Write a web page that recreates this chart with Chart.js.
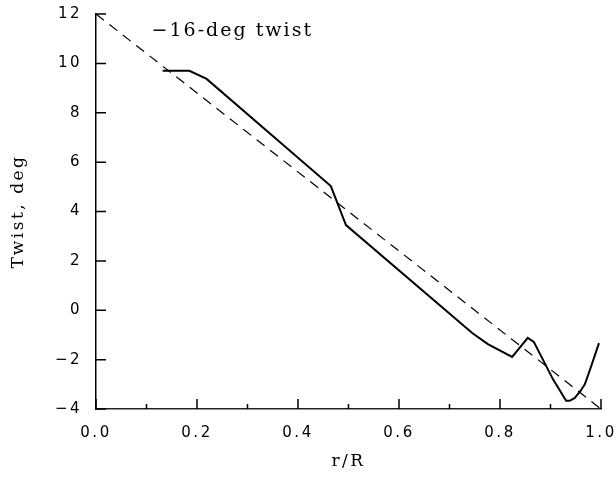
<!DOCTYPE html>
<html>
<head>
<meta charset="utf-8">
<script src="https://cdn.jsdelivr.net/npm/chart.js@4/dist/chart.umd.min.js"></script>
<style>
  html, body { margin: 0; padding: 0; background: #fff; }
  #wrap { width: 616px; height: 477px; }
</style>
</head>
<body>
<div id="wrap"><canvas id="twistChart"></canvas></div>
<script>
'use strict';

// blade twist vs radius
const radius = [0.132, 0.185, 0.219, 0.465, 0.495, 0.745, 0.776, 0.824, 0.855, 0.867, 0.905, 0.931, 0.938, 0.948, 0.958, 0.968, 0.978, 0.996];
const twist = [9.7, 9.7, 9.37, 5.03, 3.45, -0.92, -1.37, -1.89, -1.12, -1.28, -2.8, -3.67, -3.67, -3.55, -3.31, -3.0, -2.42, -1.33];

// linear -16 deg reference twist
const linearR = [0, 1];
const linearTwist = [12, -4];

const annotation = '\u221216-deg twist';
const xTitle = 'r/R';
const yTitle = 'Twist, deg';

const toPoints = (xs, ys) => xs.map((x, i) => ({x: x, y: ys[i]}));
const minus = v => (v < 0 ? '\u2212' + Math.abs(v) : String(v));

// inward tick marks + the text label
const plotExtras = {
  id: 'plotExtras',
  beforeDraw(chart) {
    chart.ctx.letterSpacing = '2.5px';
  },
  afterDraw(chart) {
    const ctx = chart.ctx;
    const xs = chart.scales.x;
    const ys = chart.scales.y;
    const area = chart.chartArea;
    ctx.save();
    ctx.strokeStyle = '#000';
    ctx.lineWidth = 1.5;
    ctx.beginPath();
    for (let i = 0; i <= 10; i++) {
      const px = xs.getPixelForValue(i / 10);
      const len = i % 2 === 0 ? 10 : 5;
      ctx.moveTo(px, area.bottom);
      ctx.lineTo(px, area.bottom - len);
    }
    ys.ticks.forEach(t => {
      const py = ys.getPixelForValue(t.value);
      ctx.moveTo(area.left, py);
      ctx.lineTo(area.left + 10, py);
    });
    ctx.stroke();

    ctx.fillStyle = '#000';
    ctx.font = '19px "DejaVu Serif"';
    ctx.letterSpacing = '2px';
    ctx.textAlign = 'left';
    ctx.textBaseline = 'middle';
    ctx.fillText(annotation, xs.getPixelForValue(0.11), ys.getPixelForValue(11.3));
    ctx.restore();
  }
};

new Chart(document.getElementById('twistChart'), {
  type: 'line',
  data: {
    datasets: [{
      data: toPoints(radius, twist),
      borderColor: '#000',
      borderWidth: 2,
      pointRadius: 0,
      tension: 0
    }, {
      data: toPoints(linearR, linearTwist),
      borderColor: '#000',
      borderWidth: 1.2,
      borderDash: [10, 7],
      pointRadius: 0
    }]
  },
  options: {
    responsive: true,
    maintainAspectRatio: false,
    animation: false,
    layout: {
      padding: {top: 14, right: 15, left: 0, bottom: 0}
    },
    plugins: {
      legend: {display: false},
      tooltip: {enabled: false}
    },
    scales: {
      x: {
        type: 'linear',
        min: 0,
        max: 1,
        afterFit: s => {
          s.height = 68;
          s.paddingLeft = 0;
          s.paddingRight = 0;
        },
        border: {display: true, color: '#222', width: 1.5},
        grid: {display: true, drawOnChartArea: false, drawTicks: false},
        ticks: {
          stepSize: 0.2,
          padding: 15,
          color: '#000',
          font: {family: '"DejaVu Sans"', size: 15},
          maxRotation: 0,
          callback: v => v.toFixed(1)
        },
        title: {
          display: true,
          text: xTitle,
          color: '#000',
          font: {family: '"DejaVu Serif"', size: 17},
          padding: {top: 0, bottom: 5}
        }
      },
      y: {
        type: 'linear',
        min: -4,
        max: 12,
        afterFit: s => {
          s.width = 96;
          s.paddingTop = 0;
          s.paddingBottom = 0;
        },
        border: {display: true, color: '#000', width: 1.5},
        grid: {display: true, drawOnChartArea: false, drawTicks: false},
        ticks: {
          stepSize: 2,
          padding: 14,
          color: '#000',
          font: {family: '"DejaVu Sans"', size: 15},
          callback: v => minus(v)
        },
        title: {
          display: true,
          text: yTitle,
          color: '#000',
          font: {family: '"DejaVu Serif"', size: 17},
          padding: {top: 8, bottom: 0}
        }
      }
    }
  },
  plugins: [plotExtras]
});
</script>
</body>
</html>
